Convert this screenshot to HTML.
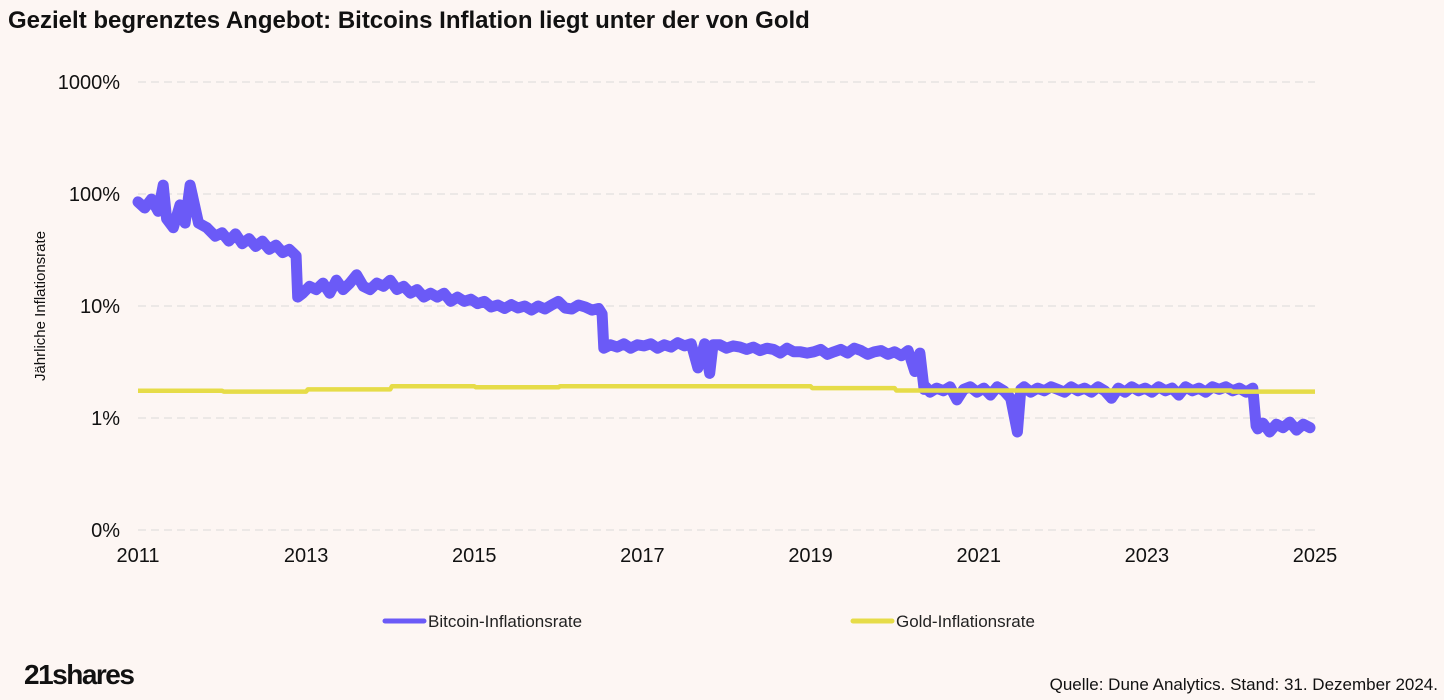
<!DOCTYPE html>
<html><head><meta charset="utf-8">
<style>
body{margin:0;background:#fdf6f3;font-family:"Liberation Sans",sans-serif;}
#wrap{position:relative;width:1444px;height:700px;overflow:hidden;background:#fdf6f3;}
</style></head><body>
<div id="wrap">
<svg id="chart" width="1444" height="700" xmlns="http://www.w3.org/2000/svg">
<text x="8" y="28" font-size="24" font-weight="bold" fill="#111">Gezielt begrenztes Angebot: Bitcoins Inflation liegt unter der von Gold</text>
<text transform="translate(45,306) rotate(-90)" text-anchor="middle" font-size="15" fill="#111">Jährliche Inflationsrate</text>
<g id="grid"></g><g id="yticks"></g><g id="xticks"></g><g id="series"></g>
<g><line x1="385" y1="621" x2="424" y2="621" stroke="#6b5af7" stroke-width="5" stroke-linecap="round"/><text x="428" y="627" font-size="17" fill="#222">Bitcoin-Inflationsrate</text></g>
<g><line x1="853" y1="621" x2="892" y2="621" stroke="#e6dc48" stroke-width="5" stroke-linecap="round"/><text x="896" y="627" font-size="17" fill="#222">Gold-Inflationsrate</text></g>
<text x="24" y="684" font-size="28" font-weight="bold" fill="#111" letter-spacing="-1.5">21shares</text>
<text x="1438" y="690" text-anchor="end" font-size="17" fill="#111">Quelle: Dune Analytics. Stand: 31. Dezember 2024.</text>
</svg>
</div>
<script>
const yTickValues=[0.1,1,10,100,1000];
const yTickLabels=["0%","1%","10%","100%","1000%"];
const xTickYears=[2011,2013,2015,2017,2019,2021,2023,2025];
const btcDates=[2011.0,2011.08,2011.16,2011.24,2011.3,2011.34,2011.42,2011.5,2011.56,2011.62,2011.72,2011.82,2011.92,
2012.0,2012.08,2012.16,2012.24,2012.32,2012.4,2012.48,2012.56,2012.64,2012.72,2012.8,2012.88,2012.9,
2012.96,2013.04,2013.12,2013.2,2013.28,2013.36,2013.44,2013.52,2013.6,2013.68,2013.76,2013.84,2013.92,
2014.0,2014.08,2014.16,2014.24,2014.32,2014.4,2014.48,2014.56,2014.64,2014.72,2014.8,2014.88,2014.96,
2015.04,2015.12,2015.2,2015.28,2015.36,2015.44,2015.52,2015.6,2015.68,2015.76,2015.84,2015.92,
2016.0,2016.08,2016.16,2016.24,2016.32,2016.4,2016.48,2016.52,2016.54,
2016.62,2016.7,2016.78,2016.86,2016.94,2017.02,2017.1,2017.18,2017.26,2017.34,2017.42,2017.5,2017.58,2017.66,2017.74,2017.8,2017.84,2017.92,
2018.0,2018.08,2018.16,2018.24,2018.32,2018.4,2018.48,2018.56,2018.64,2018.72,2018.8,2018.88,2018.96,
2019.04,2019.12,2019.2,2019.28,2019.36,2019.44,2019.52,2019.6,2019.68,2019.76,2019.84,2019.92,
2020.0,2020.08,2020.16,2020.24,2020.3,2020.35,2020.37,
2020.42,2020.5,2020.58,2020.66,2020.74,2020.82,2020.9,2020.98,2021.06,2021.14,2021.22,2021.3,2021.38,2021.46,2021.5,2021.54,2021.62,2021.7,2021.78,2021.86,2021.94,
2022.02,2022.1,2022.18,2022.26,2022.34,2022.42,2022.5,2022.58,2022.66,2022.74,2022.82,2022.9,2022.98,
2023.06,2023.14,2023.22,2023.3,2023.38,2023.46,2023.54,2023.62,2023.7,2023.78,2023.86,2023.94,
2024.02,2024.1,2024.18,2024.26,2024.3,2024.32,
2024.38,2024.46,2024.54,2024.62,2024.7,2024.78,2024.86,2024.94,2025.0];
const btcValues=[85,75,90,70,120,60,50,80,55,120,55,50,42,
45,38,44,36,40,34,38,32,35,30,32,28,12,
13,15,14,16,13,17,14,16,19,15,14,16,15,
17,14,15,13,14,12,13,12,13,11,12,11,11.5,
10.5,11,9.8,10.2,9.5,10.3,9.6,10,9.2,10,9.4,10.2,
11,9.6,9.4,10.2,9.8,9.2,9.5,8.5,4.2,
4.5,4.3,4.6,4.2,4.5,4.4,4.6,4.2,4.5,4.3,4.7,4.4,4.6,2.8,4.6,2.5,4.5,
4.5,4.2,4.4,4.3,4.1,4.3,4.0,4.2,4.1,3.8,4.2,3.9,3.9,
3.8,3.9,4.1,3.7,3.9,4.1,3.8,4.2,4.0,3.7,3.9,4.0,
3.7,3.9,3.6,4.0,2.6,3.8,1.8,
1.9,1.7,1.85,1.75,1.9,1.45,1.8,1.9,1.7,1.85,1.6,1.9,1.75,1.5,0.75,1.8,1.9,1.7,1.85,1.75,1.9,
1.8,1.7,1.9,1.75,1.85,1.7,1.9,1.75,1.5,1.85,1.7,1.9,1.75,
1.85,1.7,1.9,1.75,1.85,1.6,1.9,1.75,1.85,1.7,1.9,1.8,
1.9,1.75,1.85,1.7,1.85,0.85,
0.8,0.9,0.75,0.88,0.82,0.92,0.78,0.88,0.82];
const goldDates=[2011.0,2012.0,2012.02,2013.0,2013.02,2014.0,2014.02,2015.0,2015.02,2016.0,2016.02,2019.0,2019.02,2020.0,2020.02,2024.0,2024.02,2025.0];
const goldValues=[1.75,1.75,1.72,1.72,1.8,1.8,1.92,1.92,1.88,1.88,1.92,1.92,1.85,1.85,1.76,1.76,1.72,1.72];
const X0=138,X1=1315;
function xs(t){return X0+(t-2011)/(2025-2011)*(X1-X0);}
function ys(v){return 418-112*Math.log10(v);}
const NS="http://www.w3.org/2000/svg";
function mk(tag,attrs,parent){const e=document.createElementNS(NS,tag);for(const k in attrs)e.setAttribute(k,attrs[k]);parent.appendChild(e);return e;}
const grid=document.getElementById('grid'),yt=document.getElementById('yticks'),xt=document.getElementById('xticks'),ser=document.getElementById('series');
yTickValues.forEach((v,i)=>{
 const l=mk('line',{x1:X0,x2:X1,y1:ys(v),y2:ys(v),stroke:'#dcdad8','stroke-width':1,'stroke-dasharray':'8,5'},grid);
 
 
 const t=mk('text',{x:120,y:ys(v)+7,'text-anchor':'end','font-size':20,fill:'#111'},yt);
 t.textContent=yTickLabels[i];
 
 
});
xTickYears.forEach(yr=>{
 const t=mk('text',{x:xs(yr),y:562,'text-anchor':'middle','font-size':20,fill:'#111'},xt);
 t.textContent=yr;
 
 
});
const bp=btcDates.map((d,i)=>xs(d).toFixed(1)+','+ys(btcValues[i]).toFixed(1)).join(' ');
const b=mk('polyline',{points:bp,fill:'none',stroke:'#6b5af7','stroke-width':11,'stroke-linejoin':'round','stroke-linecap':'round'},ser);


const gp=goldDates.map((d,i)=>xs(d).toFixed(1)+','+ys(goldValues[i]).toFixed(1)).join(' ');
const g=mk('polyline',{points:gp,fill:'none',stroke:'#e6dc48','stroke-width':4.5,'stroke-linejoin':'round'},ser);


</script>
</body></html>
